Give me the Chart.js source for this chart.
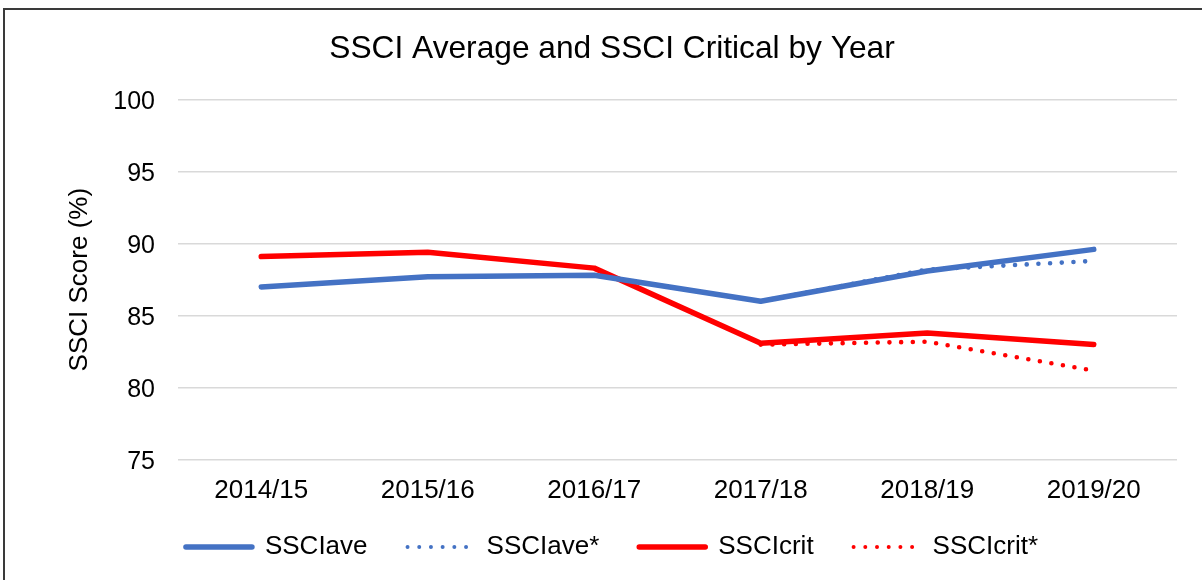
<!DOCTYPE html>
<html>
<head>
<meta charset="utf-8">
<script src="https://cdn.jsdelivr.net/npm/chart.js@4"></script>
<style>
  body { margin: 0; background: #fff; overflow: hidden; }
  #frame { position: absolute; left: 3px; top: 8px; width: 1214px; height: 600px; border: 2px solid #3a3a3a; }
  #myChart { position: absolute; left: 0; top: 0; }
</style>
</head>
<body>
<div id="frame"><canvas id="myChart" width="1206" height="572"></canvas></div>
<script>
// dados //
const anos = ["2014/15", "2015/16", "2016/17", "2017/18", "2018/19", "2019/20"];
const ssciAve = [87.0, 87.7, 87.8, 86.0, 88.1, 89.6];
const ssciAveStar = [null, null, null, 86.0, 88.2, 88.8];
const ssciCrit = [89.1, 89.4, 88.3, 83.1, 83.8, 83.0];
const ssciCritStar = [null, null, null, 83.0, 83.2, 81.2];
const yTicks = [75, 80, 85, 90, 95, 100];

const azul = "#4472C4";
const vermelho = "#FF0000";
const fonte = "'Liberation Sans', Arial, sans-serif";

Chart.defaults.font.family = fonte;
Chart.defaults.color = "#000";

function serie(label, values, color, dotted) {
    return {
        label: label,
        data: values,
        borderColor: color,
        backgroundColor: color,
        borderWidth: dotted ? 4.6 : 5.5,
        borderDash: dotted ? [0, 11.7] : [],
        borderCapStyle: "round",
        borderJoinStyle: "round",
        pointRadius: 0,
        pointHoverRadius: 0,
        pointStyle: "line",
        tension: 0,
        spanGaps: false,
    };
}

const data = {
    labels: anos,
    datasets: [
        serie("SSCIave", ssciAve, azul, false),
        serie("SSCIave*", ssciAveStar, azul, true),
        serie("SSCIcrit", ssciCrit, vermelho, false),
        serie("SSCIcrit*", ssciCritStar, vermelho, true),
    ],
};

// sobe a legenda um pouco (fica mais perto dos rótulos do eixo x) //
const subirLegenda = {
    id: "subirLegenda",
    afterLayout: function (chart) {
        if (chart.legend) {
            chart.legend.top -= 12;
            chart.legend.bottom -= 12;
        }
    },
};

const config = {
    type: "line",
    data: data,
    plugins: [subirLegenda],
    options: {
        responsive: false,
        animation: false,
        layout: { padding: { left: 42, right: 34, top: 0, bottom: 0 } },
        plugins: {
            title: {
                display: true,
                text: "SSCI Average and SSCI Critical by Year",
                font: { size: 31.7, weight: "normal" },
                color: "#000",
                padding: { top: 20.5, bottom: 30.8 },
            },
            legend: {
                position: "bottom",
                labels: {
                    usePointStyle: true,
                    pointStyleWidth: 66,
                    padding: 40,
                    font: { size: 26 },
                    color: "#000",
                    generateLabels: function (chart) {
                        const itens = Chart.defaults.plugins.legend.labels.generateLabels(chart);
                        itens.forEach(function (item) {
                            const ds = chart.data.datasets[item.datasetIndex];
                            const pontilhado = ds.borderDash.length > 0;
                            item.lineDash = pontilhado ? [0, 11.7] : [];
                            item.lineCap = "round";
                            item.lineWidth = pontilhado ? 4 : 5.5;
                            item.strokeStyle = ds.borderColor;
                            item.fillStyle = ds.borderColor;
                        });
                        return itens;
                    },
                },
            },
            tooltip: { enabled: false },
        },
        scales: {
            x: {
                offset: true,
                grid: { display: false, drawTicks: false },
                border: { display: false },
                ticks: { font: { size: 26 }, padding: 15.5, color: "#000", maxRotation: 0 },
                afterFit: function (scale) { scale.height = 46; },
            },
            y: {
                min: 75,
                max: 100,
                afterBuildTicks: function (scale) {
                    scale.ticks = yTicks.map(function (v) { return { value: v }; });
                },
                grid: { color: "#d9d9d9", lineWidth: 1.4, drawTicks: false },
                border: { display: false },
                ticks: { font: { size: 25 }, padding: 23, color: "#000", labelOffset: 2.5 },
                title: {
                    display: true,
                    text: "SSCI Score (%)",
                    font: { size: 26 },
                    color: "#000",
                    padding: { top: 17, bottom: 0 },
                },
                afterFit: function (scale) { scale.width = 131; },
            },
        },
    },
};

const myChart = new Chart(document.getElementById("myChart"), config);
</script>
</body>
</html>
